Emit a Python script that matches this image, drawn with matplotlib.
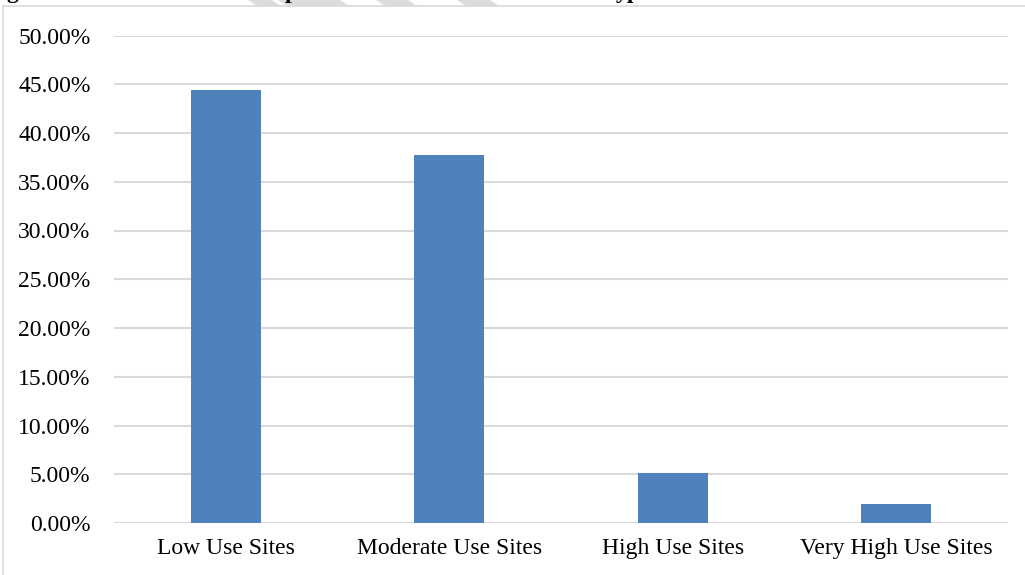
import numpy as np
import matplotlib.pyplot as plt
from matplotlib.lines import Line2D
from matplotlib.patches import Polygon
from matplotlib.ticker import FuncFormatter

# share of sites in each use category (%)
categories = ["Low Use Sites", "Moderate Use Sites", "High Use Sites", "Very High Use Sites"]
shares = [44.41, 37.74, 5.13, 1.95]
yticks = [0, 5, 10, 15, 20, 25, 30, 35, 40, 45, 50]

plt.rcParams['font.family'] = ['Liberation Serif', 'DejaVu Serif']

W, H = 1025, 575
fig = plt.figure(figsize=(W / 100, H / 100), dpi=100)
ax = fig.add_axes([114 / W, (H - 523) / H, (1008 - 114) / W, (523 - 35.5) / H])

x = np.arange(len(categories))
ax.bar(x, shares, width=0.313, color='#4f81bd', zorder=3)

ax.set_xlim(-0.5, len(categories) - 0.5)
ax.set_ylim(0, 50)
ax.set_yticks(yticks)
ax.yaxis.set_major_formatter(FuncFormatter(lambda v, p: f"{v:.2f}%"))
ax.set_xticks(x)
ax.set_xticklabels(categories)
ax.tick_params(axis='both', length=0, labelsize=17, colors='#000000')
ax.tick_params(axis='y', pad=17)
ax.tick_params(axis='x', pad=11)

ax.grid(axis='y', color='#d9d9d9', linewidth=1.5, zorder=0)
for s in ax.spines.values():
    s.set_visible(False)

# faint diagonal watermark bands in the strip above the chart
for x0, x1 in [(248, 272), (278, 340), (376, 408), (457, 490)]:
    pts = [(x0, 0), (x1, 0), (x1 + 9, 6), (x0 + 9, 6)]
    fig.add_artist(Polygon([(px / W, 1 - py / H) for px, py in pts],
                           closed=True, facecolor='#dcdcdc', edgecolor='none'))

# chart area border (top and left edges)
fig.add_artist(Line2D([3 / W, 1], [1 - 6 / H, 1 - 6 / H], color='#d9d9d9', lw=1.2))
fig.add_artist(Line2D([3 / W, 3 / W], [0, 1 - 6 / H], color='#d9d9d9', lw=1.2))

# caption line above the chart, mostly cut off
for xp, s in [(6, "g"), (285, "p"), (616, "yp")]:
    fig.text(xp / W, 1 + 2 / H, s, fontsize=17, fontweight='bold', va='baseline', ha='left')

fig.savefig("out.png", dpi=100)
